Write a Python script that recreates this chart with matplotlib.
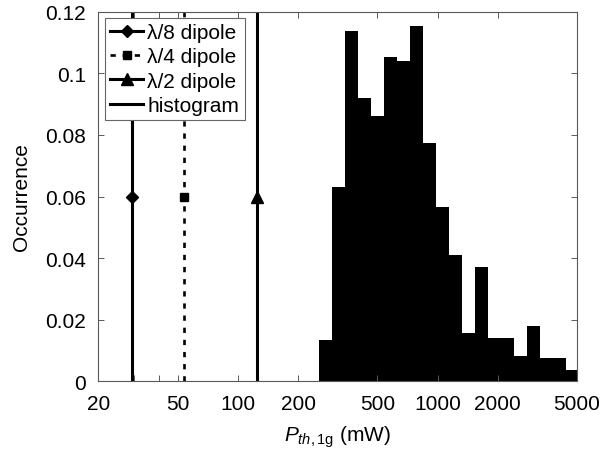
"""Histogram of threshold power with reference dipole lines (log x axis)."""

import matplotlib
matplotlib.use("Agg")
import matplotlib.pyplot as plt
from matplotlib.ticker import FixedLocator, FixedFormatter, NullLocator

plt.rcParams["font.family"] = ["Liberation Sans", "DejaVu Sans"]
plt.rcParams["mathtext.fontset"] = "custom"
plt.rcParams["mathtext.rm"] = "Liberation Sans"
plt.rcParams["mathtext.it"] = "Liberation Sans:italic"

# histogram bins (mW) and occurrence per bin
bin_edges = [254, 295.5, 343.2, 398.7, 463.1, 537.9, 624.8, 725.7, 842.9, 979.1,
             1137, 1321, 1534, 1782, 2070, 2404, 2792, 3243, 3767, 4375, 5082]
occurrence = [0.0135, 0.0632, 0.1136, 0.0921, 0.0862, 0.1054, 0.1041, 0.1153,
              0.0773, 0.0565, 0.0409, 0.0157, 0.0372, 0.0142, 0.0142, 0.0082,
              0.0179, 0.0075, 0.0075, 0.0038]

# dipole reference values (mW)
dipole_labels = ["λ/8 dipole", "λ/4 dipole", "λ/2 dipole"]
dipole_values = [29.3, 53.9, 125.0]
dipole_marker_y = 0.06

xtick_values = [20, 30, 40, 50, 100, 200, 500, 1000, 2000, 5000]
xtick_labels = ["20", "", "", "50", "100", "200", "500", "1000", "2000", "5000"]
ytick_values = [0, 0.02, 0.04, 0.06, 0.08, 0.1, 0.12]
ytick_labels = ["0", "0.02", "0.04", "0.06", "0.08", "0.1", "0.12"]

fig = plt.figure(figsize=(6.02, 4.64), dpi=100)
ax = fig.add_axes([0.1636, 0.176, 0.795, 0.7966])

styles = [
    dict(linestyle="-", marker="D", markersize=6.5, lw=2.2),
    dict(linestyle=(0, (2.0, 2.6)), marker="s", markersize=5.5, lw=1.9),
    dict(linestyle="-", marker="^", markersize=8.5, lw=2.2),
]
for label, xv, st in zip(dipole_labels, dipole_values, styles):
    ax.plot([xv, xv, xv], [0, dipole_marker_y, 0.12], color="k",
            markevery=[1], label=label, **st)

ax.stairs(occurrence, bin_edges, fill=True, color="k", lw=0)
# legend proxy for the histogram
ax.plot([], [], color="k", lw=2.2, label="histogram")

ax.set_xscale("log")
ax.set_xlim(20, 5000)
ax.set_ylim(0, 0.12)
ax.xaxis.set_major_locator(FixedLocator(xtick_values))
ax.xaxis.set_major_formatter(FixedFormatter(xtick_labels))
ax.xaxis.set_minor_locator(NullLocator())
ax.set_yticks(ytick_values)
ax.set_yticklabels(ytick_labels)

ax.tick_params(direction="in", length=4, width=0.7, color="0.35",
               top=True, right=True, labelsize=15, pad=9)
for sp in ax.spines.values():
    sp.set_color("0.35")
    sp.set_linewidth(0.8)

ax.set_xlabel(r"$P_{th,\mathrm{1g}}$ (mW)", fontsize=15, labelpad=8)
ax.set_ylabel("Occurrence", fontsize=15, labelpad=10)

leg = ax.legend(loc="upper left", fontsize=15, handlelength=1.6,
                handletextpad=0.2, borderpad=0.25, labelspacing=0.25,
                borderaxespad=0.3, fancybox=False, framealpha=1)
leg.get_frame().set_edgecolor("0.4")
leg.get_frame().set_linewidth(0.8)

fig.savefig("out.png", dpi=100)
